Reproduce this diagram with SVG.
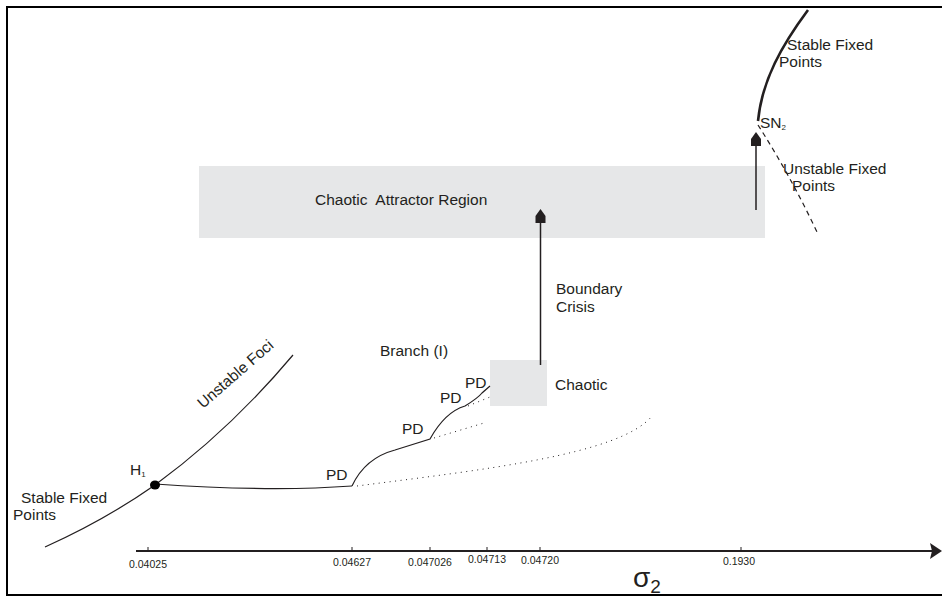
<svg xmlns="http://www.w3.org/2000/svg" width="942" height="597" viewBox="0 0 942 597">
<style>
text{font-family:"Liberation Sans",Arial,sans-serif;fill:#231f20}
.lbl{font-size:15.5px}
.tick{font-size:10.5px;text-anchor:middle}
.ln{fill:none;stroke:#231f20;stroke-width:1.2}
.dot{fill:none;stroke:#231f20;stroke-width:1;stroke-dasharray:1 4.5}
.region{fill:#e6e7e8}
</style>
<defs>
<marker id="ax" markerWidth="12" markerHeight="16" refX="2" refY="8" orient="auto" markerUnits="userSpaceOnUse">
<path d="M0,0 L12,8 L0,16 L2,8 Z" fill="#231f20"/>
</marker>
</defs>
<rect width="942" height="597" fill="#fff"/>
<path d="M942,7 L7,7 L7,595 L942,595" fill="none" stroke="#000" stroke-width="2"/>

<g id="chaotic-attractor-region">
<rect class="region" x="199" y="166" width="566" height="72"/>
<text class="lbl" x="315" y="205">Chaotic&#160; Attractor Region</text>
</g>
<g id="chaotic-box">
<rect class="region" x="490" y="360" width="57" height="46"/>
<text class="lbl" x="555" y="390">Chaotic</text>
</g>

<g id="connectors">
<path class="ln" d="M45,547 Q105,520 155,485 Q230,430 293,355"/>
<path class="ln" d="M155,484 Q270,492 352,486"/>
<path class="ln" d="M352,486 Q365,458 395,450 L430,439 Q445,412 465,406 Q478,398 482,393 L490,386"/>
<path class="dot" d="M357,486 C480,470 620,455 652,416"/>
<path class="dot" d="M434,438 L484,423"/>
<path class="dot" d="M468,406 L490,397"/>
<path d="M808,10 C782,45 762,80 758,121" fill="none" stroke="#231f20" stroke-width="2.6"/>
<path d="M758,125 Q790,175 817,232" fill="none" stroke="#231f20" stroke-width="1.2" stroke-dasharray="5 4"/>
<line x1="540.5" y1="365" x2="540.5" y2="220" stroke="#231f20" stroke-width="1.5"/>
<path d="M540.5,209 L545.5,216 L545.5,223 L535.5,223 L535.5,216 Z" fill="#231f20"/>
<line x1="756" y1="210" x2="756" y2="143" stroke="#231f20" stroke-width="1.5"/>
<path d="M756,132 L761,139 L761,146 L751,146 L751,139 Z" fill="#231f20"/>
<line x1="136" y1="551" x2="932" y2="551" stroke="#231f20" stroke-width="2" marker-end="url(#ax)"/>
<g stroke="#231f20" stroke-width="1">
<line x1="148" y1="547" x2="148" y2="552"/>
<line x1="352" y1="547" x2="352" y2="552"/>
<line x1="430" y1="547" x2="430" y2="552"/>
<line x1="487" y1="547" x2="487" y2="552"/>
<line x1="540" y1="547" x2="540" y2="552"/>
<line x1="741" y1="547" x2="741" y2="552"/>
</g>
</g>

<g id="h1">
<ellipse cx="155" cy="485" rx="5" ry="4.5" fill="#000"/>
<text class="lbl" x="130" y="475">H<tspan font-size="8" dy="2">1</tspan></text>
</g>
<g id="labels">
<text class="lbl" x="21" y="503">Stable Fixed</text>
<text class="lbl" x="13" y="520">Points</text>
<text class="lbl" transform="translate(203,409) rotate(-41)">Unstable Foci</text>
<text class="lbl" x="380" y="356">Branch (I)</text>
<text class="lbl" x="326" y="480">PD</text>
<text class="lbl" x="402" y="434">PD</text>
<text class="lbl" x="440" y="403">PD</text>
<text class="lbl" x="465" y="388">PD</text>
<text class="lbl" x="556" y="294">Boundary</text>
<text class="lbl" x="556" y="312">Crisis</text>
<text class="lbl" x="787" y="50">Stable Fixed</text>
<text class="lbl" x="779" y="67">Points</text>
<text class="lbl" x="760" y="128">SN<tspan font-size="8" dy="2">2</tspan></text>
<text class="lbl" x="783" y="174">Unstable Fixed</text>
<text class="lbl" x="792" y="191">Points</text>
</g>
<g id="axis-labels">
<text class="tick" x="148" y="568">0.04025</text>
<text class="tick" x="352" y="566">0.04627</text>
<text class="tick" x="430" y="566">0.047026</text>
<text class="tick" x="487" y="563">0.04713</text>
<text class="tick" x="540" y="564">0.04720</text>
<text class="tick" x="739" y="565">0.1930</text>
<text x="633" y="587" font-size="28">σ<tspan font-size="19" dy="6">2</tspan></text>
</g>
</svg>
